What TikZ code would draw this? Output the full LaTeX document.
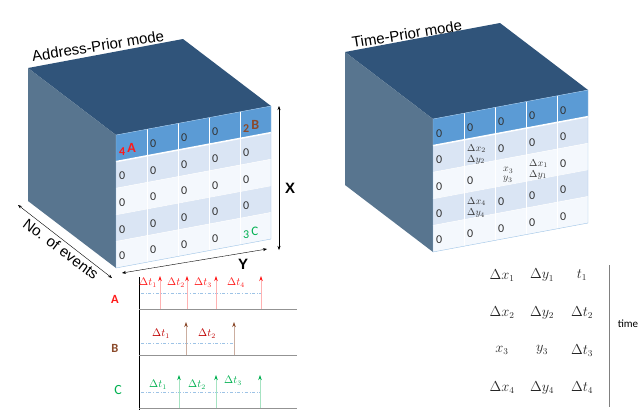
\documentclass[tikz,border=0pt]{standalone}
\usepackage{fontspec}
\setmainfont{Carlito}
\newfontfamily\arialfont{Liberation Sans}
\usetikzlibrary{arrows.meta}

\definecolor{cubetop}{HTML}{30547A}
\definecolor{cubeside}{HTML}{58758F}
\definecolor{hdrblue}{HTML}{5B9BD5}
\definecolor{rowblue}{HTML}{DAE5F4}
\definecolor{rowwhite}{HTML}{F4F8FD}
\definecolor{evred}{HTML}{FF1A1A}
\definecolor{evbrown}{HTML}{8B4A2B}
\definecolor{evgreen}{HTML}{00B050}
\definecolor{dashblue}{HTML}{9DC3E6}

\newcommand{\cellw}{31}
\newcommand{\cellh}{26.6}
\newcommand{\evA}{\textcolor{evred}{\textbf{4}\,\raisebox{3pt}{\fontsize{14}{14}\selectfont\textbf{A}}}}
\newcommand{\evB}{\textcolor{evbrown}{\textbf{2}\,\raisebox{3pt}{\fontsize{14}{14}\selectfont\textbf{B}}}}
\newcommand{\evC}{\textcolor{evgreen}{3\,\raisebox{3pt}{\fontsize{13}{13}\selectfont C}}}
\newcommand{\dxy}[1]{{\fontsize{10}{9}\selectfont\shortstack[l]{$\Delta x_{#1}$\\$\Delta y_{#1}$}}}
\newcommand{\xyc}{{\fontsize{10}{9}\selectfont\shortstack[l]{\hspace{5pt}$x_3$\\\hspace{5pt}$y_3$}}}

\tikzset{
  cellnum/.style={anchor=west, inner sep=2pt, font=\fontsize{12}{12}\selectfont, text=black!80},
  title/.style={font=\arialfont\fontsize{15}{15}\selectfont, rotate=9},
  dimlabel/.style={font=\arialfont\bfseries\fontsize{15}{15}\selectfont},
  rowlabel/.style={font=\bfseries\fontsize{12.5}{12.5}\selectfont},
  dtlabel/.style={font=\fontsize{10.5}{10.5}\selectfont},
  eventry/.style={font=\fontsize{13.5}{13.5}\selectfont, text=black!85},
}

\begin{document}
\begin{tikzpicture}[x=1pt, y=-1pt, >={Stealth[length=4pt,width=3pt]}]
\useasboundingbox (0,0) rectangle (639,410);

%--- Left cube: address-prior mode ---
\begin{scope}[shift={(116,135)}]
  \fill[cubetop] (-88,-67) -- (67,-96) -- (155,-29) -- (0,0) -- cycle;
  \fill[cubeside] (-88,-67) -- (0,0) -- (0,133) -- (-88,66) -- cycle;
  \begin{scope}[yslant=0.187]
    \fill[hdrblue] (0,0) rectangle (155,\cellh);
    \foreach \r/\col in {1/rowblue,2/rowwhite,3/rowblue,4/rowwhite}
      \fill[\col] (0,\r*\cellh) rectangle (155,\r*\cellh+\cellh);
    \foreach \c in {1,...,4} \draw[white, thick] (\c*\cellw,0) -- (\c*\cellw,133);
    \foreach \r in {2,3,4} \draw[white] (0,\r*\cellh) -- (155,\r*\cellh);
    \draw[white, line width=1.5pt] (0,\cellh) -- (155,\cellh);
    \draw[hdrblue!60] (0,0) rectangle (155,133);
    % cell values
    \foreach \row [count=\r from 0] in {{\evA,0,0,0,\evB},{0,0,0,0,0},{0,0,0,0,0},{0,0,0,0,0},{0,0,0,0,\evC}}
      \foreach \val [count=\c from 0] in \row
        \node[cellnum] (a\r\c) at (\c*\cellw+1, \r*\cellh+0.55*\cellh) {\val};
  \end{scope}
\end{scope}
\node[title] (ttlA) at (98,46) {Address-Prior mode};
% dimension arrows
\coordinate (xtop) at (279,106);
\coordinate (xbot) at (279,250);
\draw[<->] (xtop) -- (xbot);
\node[dimlabel] (xlbl) at (290,188) {X};
\coordinate (ybeg) at (122,273);
\coordinate (yend) at (267,249);
\draw[<->] (ybeg) -- (yend);
\node[dimlabel] (ylbl) at (243,264) {Y};
\coordinate (nbeg) at (18,205);
\coordinate (nend) at (112,278);
\draw[<->] (nbeg) -- (nend);
\node[font=\arialfont\fontsize{15}{15}\selectfont, rotate=-37] (nlbl) at (61,249) {No. of events};

%--- Right cube: time-prior mode ---
\begin{scope}[shift={(433,119)}]
  \fill[cubetop] (-88,-67) -- (67,-96) -- (155,-29) -- (0,0) -- cycle;
  \fill[cubeside] (-88,-67) -- (0,0) -- (0,133) -- (-88,66) -- cycle;
  \begin{scope}[yslant=0.187]
    \fill[hdrblue] (0,0) rectangle (155,\cellh);
    \foreach \r/\col in {1/rowblue,2/rowwhite,3/rowblue,4/rowwhite}
      \fill[\col] (0,\r*\cellh) rectangle (155,\r*\cellh+\cellh);
    \foreach \c in {1,...,4} \draw[white, thick] (\c*\cellw,0) -- (\c*\cellw,133);
    \foreach \r in {2,3,4} \draw[white] (0,\r*\cellh) -- (155,\r*\cellh);
    \draw[white, line width=1.5pt] (0,\cellh) -- (155,\cellh);
    \draw[hdrblue!60] (0,0) rectangle (155,133);
    % cell values
    \foreach \row [count=\r from 0] in {{0,0,0,0,0},{0,\dxy{2},0,0,0},{0,0,\xyc,\dxy{1},0},{0,\dxy{4},0,0,0},{0,0,0,0,0}}
      \foreach \val [count=\c from 0] in \row
        \node[cellnum] (t\r\c) at (\c*\cellw+1, \r*\cellh+0.55*\cellh) {\val};
  \end{scope}
\end{scope}
\node[title] (ttlB) at (407,34) {Time-Prior mode};

%--- Event trains ---
\draw[black] (139,277) -- (139,410);
\foreach \y in {309,355,408} \draw[gray!85, line width=1pt] (139,\y) -- (297,\y);
% A
\node[rowlabel, evred] (rowA) at (115,299) {A};
\draw[dashblue, dash dot] (141,293) -- (261,293);
\foreach \x in {160,187,216,261}
  \draw[red!30, line width=0.8pt, -{Stealth[color=evred,length=5pt,width=3.5pt]}] (\x,309) -- (\x,276);
\foreach \x/\i in {148/1,176/2,203/3,236/4}
  \node[dtlabel, evred] (dA\i) at (\x,283) {$\Delta t_\i$};
% B
\node[rowlabel, evbrown] (rowB) at (115,348) {B};
\draw[dashblue, dash dot] (141,343) -- (234,343);
\foreach \x in {186,234}
  \draw[evbrown!45, line width=0.8pt, -{Stealth[color=evbrown,length=5pt,width=3.5pt]}] (\x,355) -- (\x,322);
\foreach \x/\i in {161/1,207/2}
  \node[dtlabel, red!75!black] (dB\i) at (\x,334) {$\Delta t_\i$};
% C
\node[rowlabel, evgreen, font=\fontsize{14}{14}\selectfont] (rowC) at (118,390) {C};
\draw[dashblue, dash dot] (141,392) -- (260,392);
\foreach \x in {179,216,260}
  \draw[evgreen!35, line width=0.8pt, -{Stealth[color=evgreen,length=5pt,width=3.5pt]}] (\x,408) -- (\x,375);
\foreach \x/\y/\i in {158/385/1,197/385/2,233/381/3}
  \node[dtlabel, evgreen] (dC\i) at (\x,\y) {$\Delta t_\i$};

%--- Time-prior event list ---
\foreach \dx/\dy/\dt [count=\i] in {{\Delta x_1}/{\Delta y_1}/{t_1},{\Delta x_2}/{\Delta y_2}/{\Delta t_2},{x_3}/{y_3}/{\Delta t_3},{\Delta x_4}/{\Delta y_4}/{\Delta t_4}} {
  \node[eventry] (ex\i) at (502,238+37.4*\i) {$\dx$};
  \node[eventry] (ey\i) at (542,238+37.4*\i) {$\dy$};
  \node[eventry] (et\i) at (582,238+37.4*\i) {$\dt$};
}
\draw[gray] (609,265) -- (609,407);
\node[font=\fontsize{11}{11}\selectfont] (timelbl) at (628,324) {time};
\end{tikzpicture}
\end{document}
